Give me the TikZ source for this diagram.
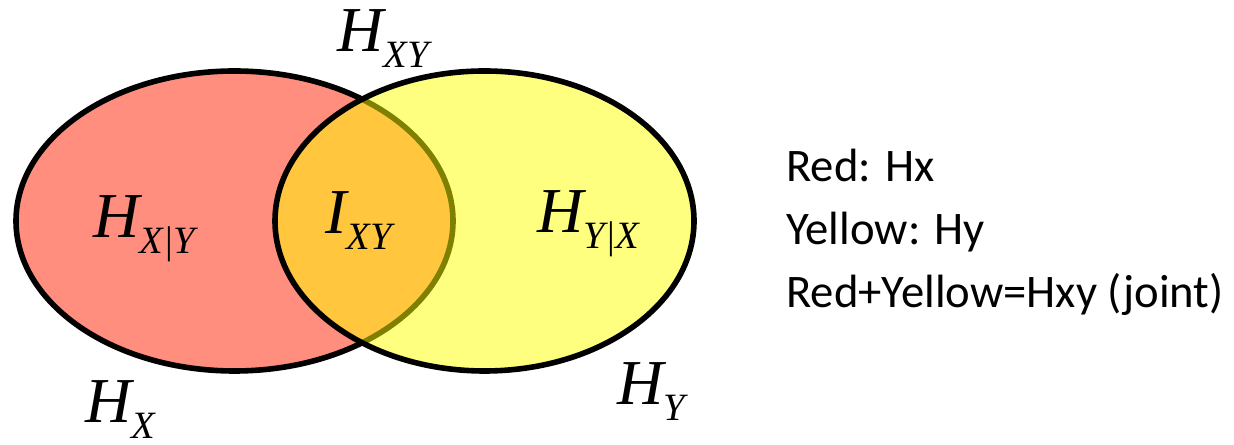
\documentclass[tikz,border=0pt]{standalone}
\usepackage{fontspec}
\setmainfont{Carlito}
\newfontfamily\tms{Liberation Serif}
\usetikzlibrary{positioning}

\definecolor{redfill}{RGB}{255,142,126}
\definecolor{yelfill}{RGB}{255,255,0}

% entropy symbol: big italic letter with a low subscript
\newcommand{\entsym}[2]{{\tms\itshape\fontsize{48}{48}\selectfont #1\raisebox{-12pt}{\fontsize{29}{29}\selectfont #2}}}
\newcommand{\given}{\kern2pt{\upshape|}}

\begin{document}
\begin{tikzpicture}[
  x=0.75pt, y=0.75pt,
  setX/.style = {draw=black, line width=4.2pt, fill=redfill},
  setY/.style = {draw=black, line width=4.2pt, fill=yelfill, fill opacity=0.5},
  lbl/.style  = {anchor=base west, inner sep=0pt},
  note/.style = {anchor=base west, inner sep=0pt, align=left,
                 font=\fontsize{35}{47.25}\selectfont},
]
\useasboundingbox (0,0) rectangle (1234,445);

% ---- the two sets -----------------------------------------------------------
\coordinate (cX) at (234.5,224);
\coordinate (cY) at (484.5,224);
\draw[setX] (cX) ellipse [x radius=218.5, y radius=150];
\draw[setY] (cY) ellipse [x radius=209.5, y radius=150];

% ---- region labels ----------------------------------------------------------
\node[lbl] (hxgy) at (93,207)  {\entsym{H}{X\given Y}};
\node[lbl] (ixy)  at (325,211) {\entsym{I}{XY}};
\node[lbl] (hygx) at (537,212) {\entsym{H}{Y\given X}};

% ---- set labels -------------------------------------------------------------
\node[lbl] (hxy) at (337,393) {\entsym{H}{XY}};
\node[lbl] (hx)  at (85,22)   {\entsym{H}{X}};
\node[lbl] (hy)  at (617,40)  {\entsym{H}{Y}};

% ---- legend (base = last line) ----------------------------------------------
\node[note] (key) at (786,137)
  {Red: Hx\\Yellow: Hy\\Red+Yellow=Hxy (joint)};

\end{tikzpicture}
\end{document}
